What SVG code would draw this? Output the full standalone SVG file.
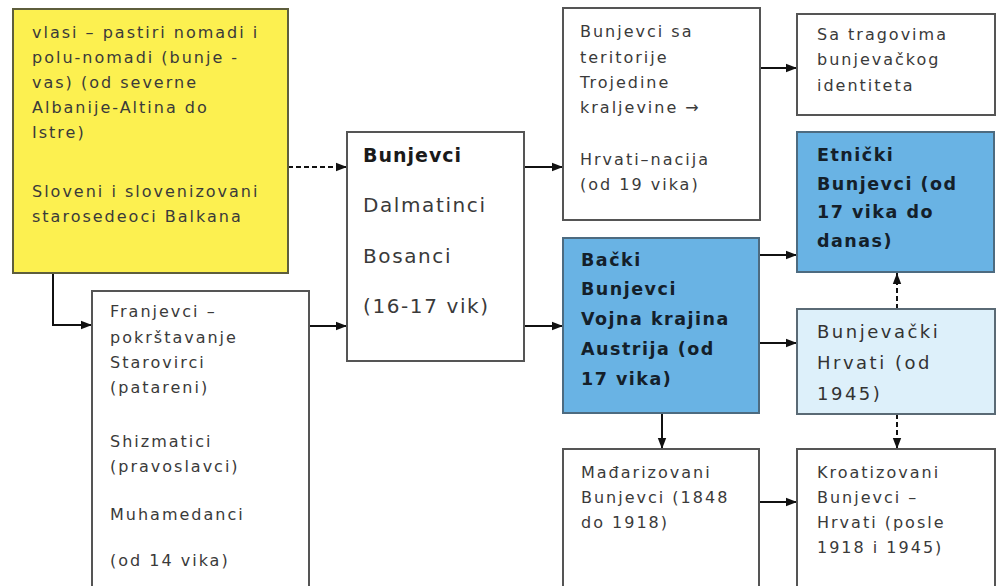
<svg xmlns="http://www.w3.org/2000/svg" width="998" height="586" viewBox="0 0 998 586">
<style>
.box{stroke:#555;stroke-width:2}
.w{fill:#fff}
.y{fill:#FCF050;stroke:#5e5e3c}
.b{fill:#69B3E4;stroke:#4d6b80}
.lb{fill:#DDF0FA;stroke:#5a6a75}
text{font-family:"DejaVu Sans","Liberation Sans",sans-serif;font-size:16px;letter-spacing:2px;fill:#3a3a3a}
.big{font-size:20px;letter-spacing:1.6px}
.bb{font-size:19px;font-weight:bold;letter-spacing:1px;fill:#1a1a1a}
.bold{font-size:17.5px;font-weight:bold;letter-spacing:1.5px;fill:#14202a}
.mid{font-size:18px;letter-spacing:2.5px;fill:#333}
.c{stroke:#111;stroke-width:2;fill:none}
.d{stroke-dasharray:5 3}
</style>
<defs>
<marker id="ah" markerUnits="userSpaceOnUse" markerWidth="11" markerHeight="10" viewBox="0 0 11 10" refX="11" refY="5" orient="auto">
<path d="M0,0.8 L11,5 L0,9.2 Z" fill="#111"/>
</marker>
</defs>
<rect width="998" height="586" fill="#fff"/>
<g id="connectors">
<path class="c d" d="M288,167 H347" marker-end="url(#ah)"/>
<path class="c" d="M53,273 V325 H92" marker-end="url(#ah)"/>
<path class="c" d="M309,326 H347" marker-end="url(#ah)"/>
<path class="c" d="M524,167 H563" marker-end="url(#ah)"/>
<path class="c" d="M524,326 H563" marker-end="url(#ah)"/>
<path class="c" d="M760,68 H797" stroke-width="1.5" marker-end="url(#ah)"/>
<path class="c" d="M759,255 H797" marker-end="url(#ah)"/>
<path class="c" d="M759,343 H797" marker-end="url(#ah)"/>
<path class="c d" d="M897,309 V273" marker-end="url(#ah)"/>
<path class="c d" d="M897,414 V449" marker-end="url(#ah)"/>
<path class="c" d="M662,413 V449" marker-end="url(#ah)"/>
<path class="c" d="M759,502 H797" marker-end="url(#ah)"/>
</g>
<g id="vlasi">
<rect class="box y" x="13" y="9" width="275" height="264"/>
<text x="32" y="38">vlasi – pastiri nomadi i</text>
<text x="32" y="63">polu-nomadi (bunje -</text>
<text x="32" y="88">vas) (od severne</text>
<text x="32" y="113">Albanije-Altina do</text>
<text x="32" y="138">Istre)</text>
<text x="32" y="197">Sloveni i slovenizovani</text>
<text x="32" y="222">starosedeoci Balkana</text>
</g>
<g id="franjevci">
<rect class="box w" x="92" y="291" width="217" height="310"/>
<text x="110" y="317">Franjevci –</text>
<text x="110" y="343">pokrštavanje</text>
<text x="110" y="368">Starovirci</text>
<text x="110" y="393">(patareni)</text>
<text x="110" y="447">Shizmatici</text>
<text x="110" y="472">(pravoslavci)</text>
<text x="110" y="520">Muhamedanci</text>
<text x="110" y="566">(od 14 vika)</text>
</g>
<g id="bunjevci">
<rect class="box w" x="347" y="132" width="177" height="229"/>
<text class="bb" x="363" y="162">Bunjevci</text>
<text class="big" x="363" y="212">Dalmatinci</text>
<text class="big" x="363" y="263">Bosanci</text>
<text class="big" x="363" y="313">(16-17 vik)</text>
</g>
<g id="trojedine">
<rect class="box w" x="563" y="8" width="197" height="212"/>
<text x="580" y="37">Bunjevci sa</text>
<text x="580" y="63">teritorije</text>
<text x="580" y="88">Trojedine</text>
<text x="580" y="113">kraljevine →</text>
<text x="580" y="165">Hrvati–nacija</text>
<text x="580" y="190">(od 19 vika)</text>
</g>
<g id="tragovi">
<rect class="box w" x="797" y="14" width="198" height="101"/>
<text x="817" y="40">Sa tragovima</text>
<text x="817" y="65">bunjevačkog</text>
<text x="817" y="91">identiteta</text>
</g>
<g id="etnicki">
<rect class="box b" x="797" y="132" width="197" height="140"/>
<text class="bold" x="817" y="161">Etnički</text>
<text class="bold" x="817" y="190">Bunjevci (od</text>
<text class="bold" x="817" y="218">17 vika do</text>
<text class="bold" x="817" y="247">danas)</text>
</g>
<g id="backi">
<rect class="box b" x="563" y="238" width="196" height="175"/>
<text class="bold" x="581" y="266">Bački</text>
<text class="bold" x="581" y="295">Bunjevci</text>
<text class="bold" x="581" y="325">Vojna krajina</text>
<text class="bold" x="581" y="355">Austrija (od</text>
<text class="bold" x="581" y="385">17 vika)</text>
</g>
<g id="bunjevacki">
<rect class="box lb" x="797" y="309" width="198" height="105"/>
<text class="mid" x="817" y="338">Bunjevački</text>
<text class="mid" x="817" y="369">Hrvati (od</text>
<text class="mid" x="817" y="400">1945)</text>
</g>
<g id="madjarizovani">
<rect class="box w" x="563" y="449" width="196" height="150"/>
<text x="581" y="478">Mađarizovani</text>
<text x="581" y="503">Bunjevci (1848</text>
<text x="581" y="528">do 1918)</text>
</g>
<g id="kroatizovani">
<rect class="box w" x="797" y="449" width="198" height="150"/>
<text x="817" y="478">Kroatizovani</text>
<text x="817" y="503">Bunjevci –</text>
<text x="817" y="528">Hrvati (posle</text>
<text x="817" y="553">1918 i 1945)</text>
</g>
</svg>
